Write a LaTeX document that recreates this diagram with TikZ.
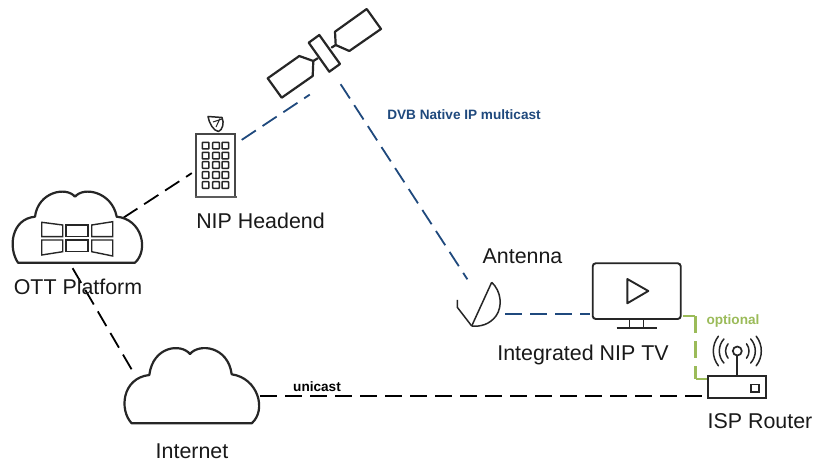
\documentclass[tikz,border=0pt]{standalone}
\usepackage{fontspec}
\usetikzlibrary{calc}
\setmainfont{Liberation Sans}
\definecolor{nipblue}{HTML}{1F497D}
\definecolor{optgreen}{HTML}{9BBB59}
\definecolor{icon}{HTML}{262626}
\tikzset{
 lbl/.style={anchor=base,inner sep=0pt,font=\fontsize{21.4}{24}\selectfont,text=black!90},
 smalllbl/.style={anchor=base,inner sep=0pt,font=\fontsize{13.6}{15}\selectfont\bfseries},
 blackdash/.style={draw=black,line width=1.8pt,dash pattern=on 17pt off 8pt},
 bluedash/.style={draw=nipblue,line width=1.8pt,dash pattern=on 17pt off 8pt},
 greendash/.style={draw=optgreen,line width=2.2pt,dash pattern=on 17pt off 8pt},
 iconline/.style={draw=icon,line width=2.2pt,line join=round,line cap=round},
 thinicon/.style={draw=icon,line width=1.5pt,line join=round},
 anchorpt/.style={inner sep=0pt,minimum size=0pt},
}
\begin{document}
\begin{tikzpicture}[x=1pt,y=-1pt]
\useasboundingbox (0,0) rectangle (814,462);
\fill[white] (0,0) rectangle (814,462);
% connector ends
\node[anchorpt] (ottNE) at (123,218) {};
\node[anchorpt] (hdW) at (192,173) {};
\node[anchorpt] (hdE) at (241.5,140) {};
\node[anchorpt] (satSW) at (310,94.5) {};
\node[anchorpt] (satS) at (340.5,84) {};
\node[anchorpt] (antN) at (467.5,279.5) {};
\node[anchorpt] (antE) at (505,314) {};
\node[anchorpt] (tvW) at (590,314) {};
\node[anchorpt] (tvE) at (683,316) {};
\node[anchorpt] (optbendA) at (695.5,316) {};
\node[anchorpt] (optbendB) at (695.5,379) {};
\node[anchorpt] (rtW) at (708,379) {};
\node[anchorpt] (rtSW) at (708,396) {};
\node[anchorpt] (inetE) at (260,396) {};
\node[anchorpt] (ottS) at (72.5,268) {};
\node[anchorpt] (inetNW) at (134,373.5) {};
% connectors
\draw[blackdash] (ottNE) -- (hdW);
\draw[bluedash] (hdE) -- (satSW);
\draw[bluedash] (satS) -- (antN);
\draw[bluedash] (antE) -- (tvW);
\draw[greendash] (tvE) -- (optbendA) -- (optbendB) -- (rtW);
\draw[blackdash] (inetE) -- (rtSW);
\draw[blackdash] (ottS) -- (inetNW);
% satellite
\begin{scope}[iconline]
\draw (308.7,42.7) -- (319.3,35) -- (340,64) -- (329.3,71.7) -- cycle;
\draw (335,31.7) -- (366.7,9) -- (381,29) -- (349.3,51) -- (335.7,45) -- cycle;
\draw (335.7,45) -- (331.7,47.5);
\draw (267.7,78.3) -- (299.3,56) -- (313.3,61) -- (312.7,76) -- (281.7,97.7) -- cycle;
\draw (313.3,61) -- (317.7,58.3);
\end{scope}
% building
\draw[draw=icon!85,line width=1.8pt] (196,197) -- (196,134) -- (235,134) -- (235,197);
\draw[draw=icon!75,line width=2pt] (194.5,197) -- (236.5,197);
\foreach \cx in {202.3,212.7,222}
 \foreach \cy in {142.3,152.3,161.7,171.7,181.7}
  \draw[draw=icon,line width=1.5pt,rounded corners=0.6pt] (\cx,\cy) rectangle +(6.6,6.6);
% headend dish
\draw[draw=icon,line width=1.5pt,line join=round] (208,116.5) -- (222,117.5) .. controls (224.5,123) and (222.5,130) .. (218.5,131.5) .. controls (213.5,131) and (209,123) .. (208,116.5) -- cycle;
\draw[draw=icon,line width=1pt] (213,122) -- (222,119) (216,127) -- (220,118.5);
% OTT cloud
\draw[iconline] (18,262.7) .. controls (8,248) and (11,219) .. (35,216.7)
 .. controls (38,192) and (66,186) .. (75,196.7)
 .. controls (84,186) and (112,192) .. (116.7,216.7)
 .. controls (142,219) and (149,250) .. (135,262.7) -- cycle;
\begin{scope}[draw=icon,line width=1.4pt]
\draw (41.7,222.3) -- (62.7,225) -- (62.7,236.7) -- (41.7,236.7) -- cycle;
\draw (66,225) rectangle (88,236.7);
\draw (91.7,225) -- (112.7,221.7) -- (112.7,236.7) -- (91.7,236.7) -- cycle;
\draw (41.7,240) -- (62.7,240) -- (62.7,251.7) -- (41.7,255) -- cycle;
\draw (66,240) rectangle (88,251.7);
\draw (91.7,240) -- (112.7,240) -- (112.7,256) -- (91.7,251.7) -- cycle;
\end{scope}
% Internet cloud
\draw[iconline] (131.7,423.3) .. controls (119,410) and (122,378) .. (149.3,375)
 .. controls (153,346) and (181,343) .. (190,354)
 .. controls (199,343) and (228,346) .. (231.7,374.3)
 .. controls (258,378) and (267,410) .. (251.7,423.3) -- cycle;
% antenna
\draw[thinicon] (491.7,282.3) -- (471.7,326);
\draw[thinicon] (491.7,282.3) .. controls (501,291) and (503,306) .. (496,316) .. controls (490,324) and (481,327) .. (471.7,326);
\draw[thinicon] (457.3,300) -- (457.3,307.3) -- (471.7,326);
% TV
\draw[draw=icon,line width=1.9pt,rounded corners=3pt] (592.7,263.3) rectangle (680.7,319);
\draw[draw=icon,line width=1.6pt] (629.3,319) -- (629.3,327.7) (643.3,319) -- (643.3,327.7);
\draw[draw=icon,line width=1.9pt] (616.7,327.7) -- (656.7,327.7);
\draw[draw=icon,line width=1.9pt,line join=round] (627.3,279) -- (648.3,291) -- (627.3,303.3) -- cycle;
% router
\draw[draw=icon,line width=1.7pt] (708.3,376) rectangle (765.7,398.3);
\draw[draw=icon,line width=1.6pt] (751,384.3) rectangle (758.7,391.7);
\draw[draw=icon,line width=1.7pt] (737.3,376) -- (737.3,355.5);
\draw[draw=icon,line width=1.7pt] (737.3,351) circle (4.5);
\foreach \r/\a in {11.7/38,18/42,24/38}{
 \draw[draw=icon,line width=1.5pt,line cap=round] ($(737.3,351)+(\a:\r)$) arc[start angle=\a,end angle=-\a,radius=\r];
 \draw[draw=icon,line width=1.5pt,line cap=round] ($(737.3,351)+(180-\a:\r)$) arc[start angle=180-\a,end angle=180+\a,radius=\r];
}
% labels
\node[lbl] (ottLabel) at (78,295) {OTT Platform};
\node[lbl] (hdLabel) at (260.5,229) {NIP Headend};
\node[lbl] (antLabel) at (522.5,264) {Antenna};
\node[lbl] (tvLabel) at (583,360) {Integrated NIP TV};
\node[lbl] (rtLabel) at (760,428) {ISP Router};
\node[lbl] (inetLabel) at (192,458) {Internet};
\node[smalllbl,text=nipblue] (dvbLabel) at (464,120) {DVB Native IP multicast};
\node[smalllbl,text=black] (uniLabel) at (317,391) {unicast};
\node[smalllbl,text=optgreen] (optLabel) at (733,325) {optional};
\end{tikzpicture}
\end{document}
